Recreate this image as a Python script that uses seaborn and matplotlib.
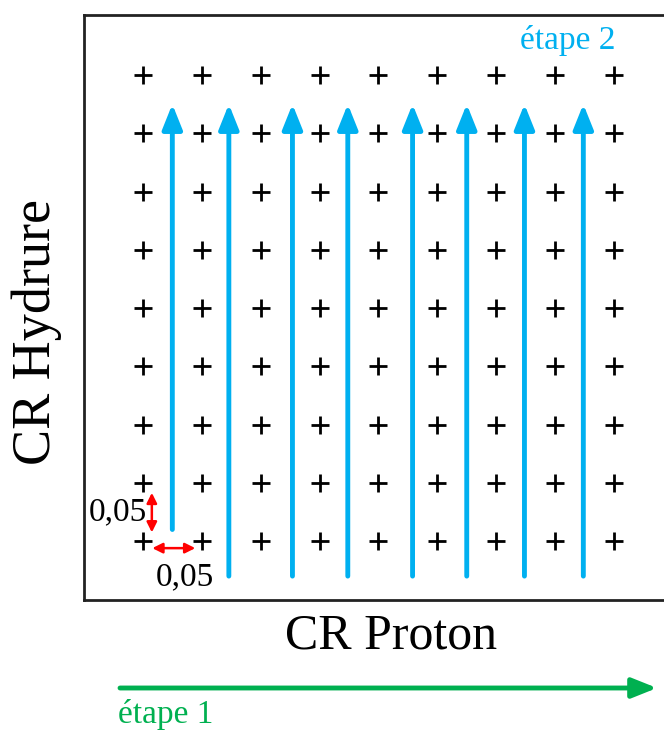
import numpy as np
import pandas as pd
import matplotlib
matplotlib.use("Agg")
import matplotlib.pyplot as plt
import seaborn as sns

# ===============================
# Data
# ===============================
cr_proton = [0.05, 0.10, 0.15, 0.20, 0.25, 0.30, 0.35, 0.40, 0.45]
cr_hydrure = [0.05, 0.10, 0.15, 0.20, 0.25, 0.30, 0.35, 0.40, 0.45]

# etape 2 sweeps (blue vertical arrows)
sweep_x = [0.075, 0.123, 0.177, 0.224, 0.279, 0.325, 0.374, 0.424]
sweep_start = [0.060, 0.020, 0.020, 0.020, 0.020, 0.020, 0.020, 0.020]
sweep_end = [0.425, 0.425, 0.425, 0.425, 0.425, 0.425, 0.425, 0.425]

step_label = "0,05"
blue = "#00b0f0"
green = "#00b050"
red = "#ff0000"

grid = pd.DataFrame([(x, y) for x in cr_proton for y in cr_hydrure],
                    columns=["CR Proton", "CR Hydrure"])

# ===============================
# Plot
# ===============================
sns.set_theme(style="white")
plt.rcParams["font.family"] = ["Liberation Serif", "DejaVu Serif"]
plt.rcParams["text.color"] = "black"

fig = plt.figure(figsize=(6.64, 7.33), dpi=100)
ax = fig.add_axes([84 / 664, 133 / 733, 1 - 84 / 664, 585 / 733])

sns.scatterplot(data=grid, x="CR Proton", y="CR Hydrure", marker="+",
                s=170, color="black", linewidth=2.0, ax=ax, legend=False)

for x, y0, y1 in zip(sweep_x, sweep_start, sweep_end):
    ax.annotate("", xy=(x, y1), xytext=(x, y0),
                arrowprops=dict(arrowstyle="-|>,head_length=0.75,head_width=0.3",
                                color=blue, lw=3.5, shrinkA=0, shrinkB=0,
                                mutation_scale=20))

# step size markers
ax.annotate("", xy=(0.0576, 0.0915), xytext=(0.0576, 0.0575),
            arrowprops=dict(arrowstyle="<|-|>,head_length=0.5,head_width=0.25",
                            color=red, lw=1.8, shrinkA=0, shrinkB=0,
                            mutation_scale=12))
ax.annotate("", xy=(0.0580, 0.0440), xytext=(0.0945, 0.0440),
            arrowprops=dict(arrowstyle="<|-|>,head_length=0.5,head_width=0.25",
                            color=red, lw=1.8, shrinkA=0, shrinkB=0,
                            mutation_scale=12))
ax.text(0.0285, 0.0749, step_label, fontsize=24, ha="center", va="center",
        color="black")
ax.text(0.0857, 0.0195, step_label, fontsize=24, ha="center", va="center",
        color="black")

ax.text(0.834, 0.957, "étape 2", transform=ax.transAxes, fontsize=24,
        color=blue, ha="center", va="center")

ax.set_xlim(0.0, 0.4925)
ax.set_ylim(-0.0005, 0.5015)
ax.set_xticks([])
ax.set_yticks([])
ax.set_xlabel("")
ax.set_ylabel("")
for side in ["left", "top", "bottom"]:
    ax.spines[side].set_color("#222222")
    ax.spines[side].set_linewidth(2)
ax.spines["right"].set_visible(False)

ax.text(0.529, -0.062, "CR Proton", transform=ax.transAxes, fontsize=36,
        ha="center", va="center", color="black")
ax.text(-0.081, 0.458, "CR Hydrure", transform=ax.transAxes, fontsize=39,
        ha="center", va="center", rotation=90, color="black")

# etape 1 (green horizontal arrow under the axes)
ax.annotate("", xy=(657 / 664, 1 - 688 / 733), xytext=(120 / 664, 1 - 688 / 733),
            xycoords="figure fraction", textcoords="figure fraction",
            arrowprops=dict(arrowstyle="-|>,head_length=0.75,head_width=0.3",
                            color=green, lw=3.5, shrinkA=0, shrinkB=0,
                            mutation_scale=20))
fig.text(118 / 664, 1 - 714 / 733, "étape 1", fontsize=24, color=green,
         ha="left", va="center")

fig.savefig("out.png", dpi=100)
